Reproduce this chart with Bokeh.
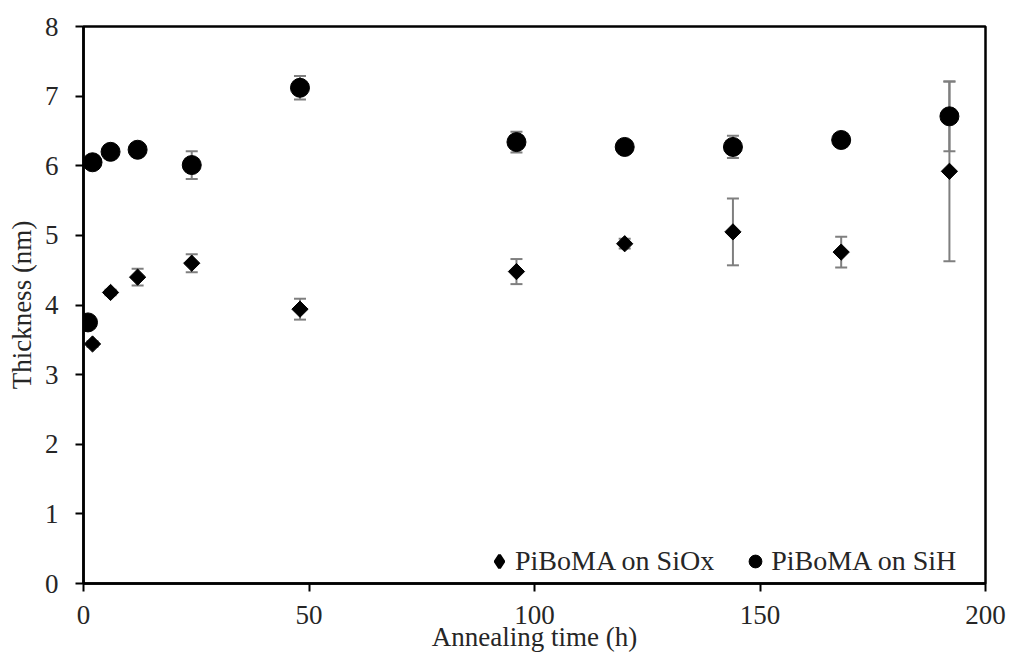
from bokeh.plotting import figure
from bokeh.models import ColumnDataSource, Whisker, Legend, LegendItem, FixedTicker, Range1d
from bokeh.embed import file_html
from bokeh.resources import INLINE
import numpy as np

# Film thickness vs. annealing time
siox_time = [2, 6, 12, 24, 48, 96, 120, 144, 168, 192]
siox_thick = [3.44, 4.18, 4.40, 4.60, 3.94, 4.48, 4.88, 5.05, 4.76, 5.92]
siox_err = [0.04, 0.04, 0.12, 0.13, 0.15, 0.18, 0.07, 0.48, 0.22, 1.29]

sih_time = [1, 2, 6, 12, 24, 48, 96, 120, 144, 168, 192]
sih_thick = [3.75, 6.05, 6.20, 6.23, 6.01, 7.12, 6.34, 6.27, 6.27, 6.37, 6.71]
sih_err = [0.05, 0.05, 0.05, 0.05, 0.20, 0.17, 0.15, 0.08, 0.16, 0.10, 0.50]

x_ticks = [0, 50, 100, 150, 200]
y_ticks = [0, 1, 2, 3, 4, 5, 6, 7, 8]

FONT = "Liberation Serif"
TEXT_COLOR = "#262626"

def make_source(t, v, e):
    v = np.array(v)
    e = np.array(e)
    return ColumnDataSource(dict(x=t, y=v, lo=v - e, hi=v + e))

src_siox = make_source(siox_time, siox_thick, siox_err)
src_sih = make_source(sih_time, sih_thick, sih_err)

p = figure(width=1010, height=654, output_backend="svg", toolbar_location=None,
           x_range=Range1d(0, 200), y_range=Range1d(0, 8),
           min_border_left=83, min_border_right=25, min_border_top=26, min_border_bottom=71)

p.background_fill_color = "white"
p.border_fill_color = "white"
p.outline_line_color = "black"
p.outline_line_width = 2.5
p.xgrid.visible = False
p.ygrid.visible = False

for src in (src_siox, src_sih):
    w = Whisker(source=src, base="x", lower="lo", upper="hi", dimension="height",
                line_color="#7f7f7f", line_width=2)
    for head in (w.upper_head, w.lower_head):
        head.size = 12
        head.line_color = "#7f7f7f"
        head.line_width = 2
    p.add_layout(w)

# diamonds are squares turned by 45 degrees
r_siox = p.scatter("x", "y", source=src_siox, marker="square", angle=np.pi / 4,
                   size=11.5, fill_color="black", line_color="black")
r_sih = p.scatter("x", "y", source=src_sih, marker="circle",
                  size=19, fill_color="black", line_color="black")

# legend keys (drawn only inside the legend)
key_siox = p.scatter([np.nan], [np.nan], marker="diamond", fill_color="black",
                     line_color="black", line_width=3)
key_sih = p.scatter([np.nan], [np.nan], marker="circle", fill_color="black",
                    line_color="black")

for ax in (p.xaxis[0], p.yaxis[0]):
    ax.axis_line_color = "black"
    ax.axis_line_width = 2.5
    ax.major_tick_line_color = "black"
    ax.major_tick_line_width = 2
    ax.major_tick_out = 8
    ax.major_tick_in = 0
    ax.minor_tick_line_color = None
    ax.major_label_text_font = FONT
    ax.major_label_text_font_size = "27px"
    ax.major_label_text_color = TEXT_COLOR
    ax.axis_label_text_font = FONT
    ax.axis_label_text_font_size = "27px"
    ax.axis_label_text_font_style = "normal"
    ax.axis_label_text_color = TEXT_COLOR

p.xaxis.ticker = FixedTicker(ticks=x_ticks)
p.yaxis.ticker = FixedTicker(ticks=y_ticks)
p.xaxis.axis_label = "Annealing time (h)"
p.yaxis.axis_label = "Thickness (nm)"
p.xaxis.major_label_standoff = 14
p.xaxis.axis_label_standoff = -5
p.yaxis.major_label_standoff = 17
p.yaxis.axis_label_standoff = 5

legend = Legend(items=[LegendItem(label="PiBoMA on SiOx", renderers=[key_siox]),
                       LegendItem(label="PiBoMA on SiH", renderers=[key_sih])],
                orientation="horizontal", location=(400, 6),
                background_fill_alpha=0, border_line_color=None,
                label_text_font=FONT, label_text_font_size="28px",
                label_text_color=TEXT_COLOR, glyph_width=32, glyph_height=32,
                label_standoff=-3, spacing=25, margin=0, padding=0)
p.add_layout(legend)

open("out.html", "w").write(file_html(p, INLINE))
